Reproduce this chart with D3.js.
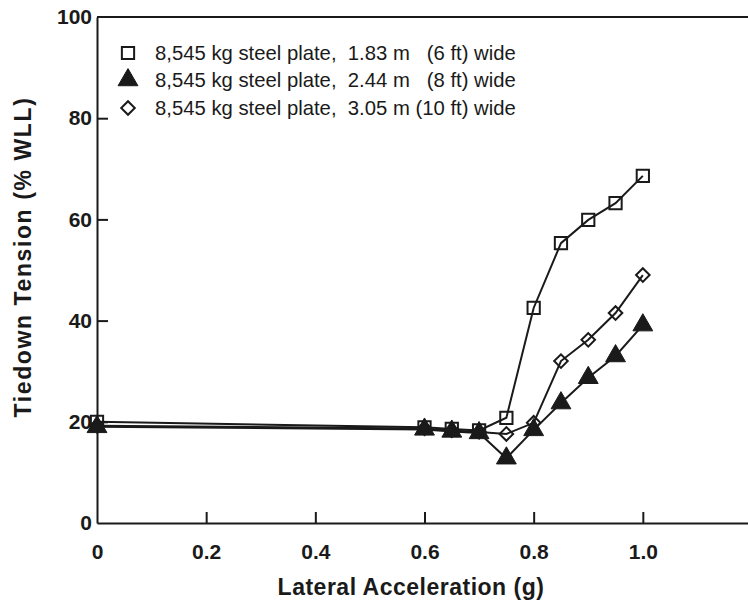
<!DOCTYPE html>
<html><head><meta charset="utf-8">
<script src="https://cdn.jsdelivr.net/npm/d3@7"></script>
<style>body{margin:0;background:#fff}svg{display:block}text{font-family:"Liberation Sans",Arial,sans-serif;fill:#1a1a1a}</style>
</head><body><svg id="c" width="748" height="605"></svg>
<script>
const accel = [0, 0.6, 0.65, 0.7, 0.75, 0.8, 0.85, 0.9, 0.95, 1.0];
const plate6ft = [20.0, 18.9, 18.6, 18.3, 20.8, 42.5, 55.3, 59.9, 63.2, 68.6];
const plate8ft = [19.0, 18.5, 18.1, 17.8, 12.8, 18.4, 23.7, 28.7, 33.0, 39.1];
const plate10ft = [19.2, 18.7, 18.3, 18.0, 17.6, 19.8, 32.0, 36.2, 41.5, 49.0];
const seriesLabels = ["8,545 kg steel plate,  1.83 m   (6 ft) wide",
                      "8,545 kg steel plate,  2.44 m   (8 ft) wide",
                      "8,545 kg steel plate,  3.05 m (10 ft) wide"];
const seriesSymbols = ["square", "triangle", "diamond"];
const xTicks = [0, 0.2, 0.4, 0.6, 0.8, 1.0, 1.2];
const xTickLabels = ["0", "0.2", "0.4", "0.6", "0.8", "1.0", ""];
const yTicks = [0, 20, 40, 60, 80, 100];

const ink = "#1a1a1a";
const svg = d3.select("#c");
const x = d3.scaleLinear().domain([0, 1.2]).range([97, 752]);
const y = d3.scaleLinear().domain([0, 100]).range([523, 17]);

svg.append("line").attr("x1", x(0)).attr("x2", x(1.2)).attr("y1", y(100)).attr("y2", y(100))
  .attr("stroke", ink).attr("stroke-width", 2);

const xAxis = svg.append("g").attr("transform", `translate(0,${y(0)})`)
  .call(d3.axisBottom(x).tickValues(xTicks).tickSizeInner(-11).tickSizeOuter(0).tickPadding(21)
    .tickFormat((d, i) => xTickLabels[i]));
const yAxis = svg.append("g").attr("transform", `translate(${x(0)},0)`)
  .call(d3.axisLeft(y).tickValues(yTicks).tickSizeInner(-11).tickSizeOuter(0).tickPadding(5)
    .tickFormat(d3.format("d")));
[xAxis, yAxis].forEach(g => {
  g.select(".domain").attr("stroke", ink).attr("stroke-width", 2);
  g.selectAll(".tick line").attr("stroke", ink).attr("stroke-width", 2);
  g.selectAll(".tick text").attr("font-size", 21).attr("font-weight", "bold")
    .attr("font-family", "Liberation Sans, Arial, sans-serif").attr("fill", ink);
});
yAxis.selectAll(".tick line").filter(d => d === 0 || d === 100).remove();
xAxis.selectAll(".tick line").filter(d => d === 0).remove();

svg.append("text").attr("x", 411).attr("y", 595).attr("text-anchor", "middle")
  .attr("font-size", 23).attr("font-weight", "bold").attr("letter-spacing", 0.5)
  .text("Lateral Acceleration (g)");
svg.append("text").attr("transform", "translate(31,257) rotate(-90)").attr("text-anchor", "middle")
  .attr("font-size", 23).attr("font-weight", "bold").attr("letter-spacing", 1.6)
  .text("Tiedown Tension (% WLL)");

const series = [plate6ft, plate8ft, plate10ft];
const line = d3.line().x(d => x(d[0])).y(d => y(d[1]));
const sym = {
  square: d3.symbol().type(d3.symbolSquare).size(150),
  triangle: d3.symbol().type(d3.symbolTriangle).size(170),
  diamond: d3.symbol().type(d3.symbolSquare).size(92)
};
function drawMarker(g, kind, cx, cy) {
  const p = g.append("path").attr("d", sym[kind]())
    .attr("transform", `translate(${cx},${cy})` + (kind === "diamond" ? " rotate(45)" : ""));
  if (kind === "triangle") p.attr("fill", ink).attr("stroke", ink).attr("stroke-width", 1);
  else p.attr("fill", "none").attr("stroke", ink).attr("stroke-width", 2);
}
series.forEach(vals => {
  const pts = accel.map((a, j) => [a, vals[j]]);
  svg.append("path").attr("d", line(pts)).attr("fill", "none").attr("stroke", ink).attr("stroke-width", 2);
});
series.forEach((vals, i) => {
  const g = svg.append("g");
  accel.forEach((a, j) => drawMarker(g, seriesSymbols[i], x(a), y(vals[j])));
});

const legY = [53, 80, 108];
seriesLabels.forEach((lab, i) => {
  const g = svg.append("g");
  drawMarker(g, seriesSymbols[i], 128, legY[i]);
  svg.append("text").attr("x", 155).attr("y", legY[i]).attr("dy", "0.35em")
    .attr("font-size", 20.3).style("white-space", "pre").text(lab);
});
</script></body></html>
